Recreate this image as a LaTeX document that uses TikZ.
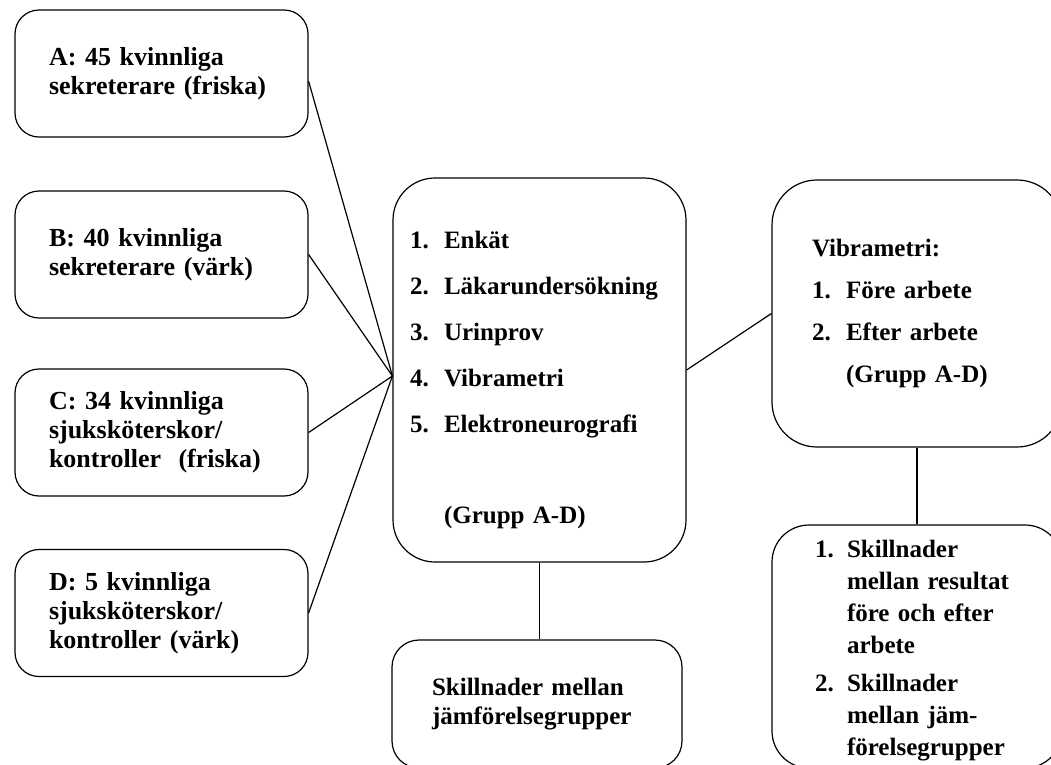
\documentclass[tikz,border=0pt]{standalone}
\usepackage{fontspec}
\setmainfont{Liberation Serif}
\usetikzlibrary{positioning}

% number column of the lists
\newcommand{\nr}[1]{\makebox[34pt][l]{#1}}

\begin{document}
\begin{tikzpicture}[x=1pt,y=-1pt]

% Define styles
\tikzset{
    box/.style={draw, line width=1.2pt, align=left, font=\bfseries},
    grpbox/.style={box, rounded corners=24pt, inner xsep=34pt, text width=225pt,
        minimum height=127pt, font=\fontsize{26}{29}\selectfont\bfseries},
    link/.style={line width=1.2pt}
}

% frame of the picture
\useasboundingbox (0,0) rectangle (1051,764);
\clip (0,0) rectangle (1051,764);

% groups
\node[grpbox] (grpA) at (161.5,73.5) {A: 45 kvinnliga\\ sekreterare (friska)};
\node[grpbox] (grpB) at (161.5,254.5) {B: 40 kvinnliga\\ sekreterare (värk)};
\node[grpbox] (grpC) at (161.5,432.5) {C: 34 kvinnliga\\ sjuksköterskor/\\ kontroller~ (friska)};
\node[grpbox] (grpD) at (161.5,613) {D: 5 kvinnliga\\ sjuksköterskor/\\ kontroller (värk)};

% methods
\node[box, rounded corners=42pt, inner xsep=17pt, text width=259pt, minimum height=384pt,
    font=\fontsize{25}{46}\selectfont\bfseries] (meth) at (539.5,370)
    {\rule{0pt}{37pt}\nr{1.}Enkät\\ \nr{2.}Läkarundersökning\\ \nr{3.}Urinprov\\
     \nr{4.}Vibrametri\\ \nr{5.}Elektroneurografi\\[45pt] \nr{}(Grupp A-D)};

% comparison between groups
\node[box, rounded corners=27pt, inner xsep=40pt, text width=210pt, minimum height=128pt,
    font=\fontsize{25}{29}\selectfont\bfseries] (cmp) at (537,704)
    {Skillnader mellan\\ jämförelsegrupper};

% vibrametri before / after work
\node[box, rounded corners=45pt, inner xsep=40pt, text width=210pt, minimum height=267pt,
    font=\fontsize{25}{42}\selectfont\bfseries] (vib) at (917,313.5)
    {Vibrametri:\\ \nr{1.}Före arbete\\ \nr{2.}Efter arbete\\ \nr{}(Grupp A-D)};

% results
\node[box, rounded corners=37pt, inner xsep=43pt, text width=204pt, minimum height=243pt,
    font=\fontsize{25}{32}\selectfont\bfseries] (res) at (917,646.5)
    {\rule{0pt}{26pt}\makebox[32pt][l]{1.}Skillnader\\ \hspace*{32pt}mellan resultat\\ \hspace*{32pt}före och efter\\
     \hspace*{32pt}arbete\\[6pt] \makebox[32pt][l]{2.}Skillnader\\ \hspace*{32pt}mellan jäm-\\
     \hspace*{32pt}förelsegrupper};

% connectors
\coordinate (hub) at ([yshift=-6pt]meth.west);
\draw[link] (grpA.-3) -- (hub);
\draw[link] (grpB.east) -- (hub);
\draw[link] (grpC.east) -- (hub);
\draw[link] (grpD.east) -- (hub);
\draw[link] (meth.east) -- (vib.west);
\draw[link] (meth.south) -- (meth.south |- cmp.north);
\draw[link] (vib.south) -- (vib.south |- res.north);

\end{tikzpicture}
\end{document}
